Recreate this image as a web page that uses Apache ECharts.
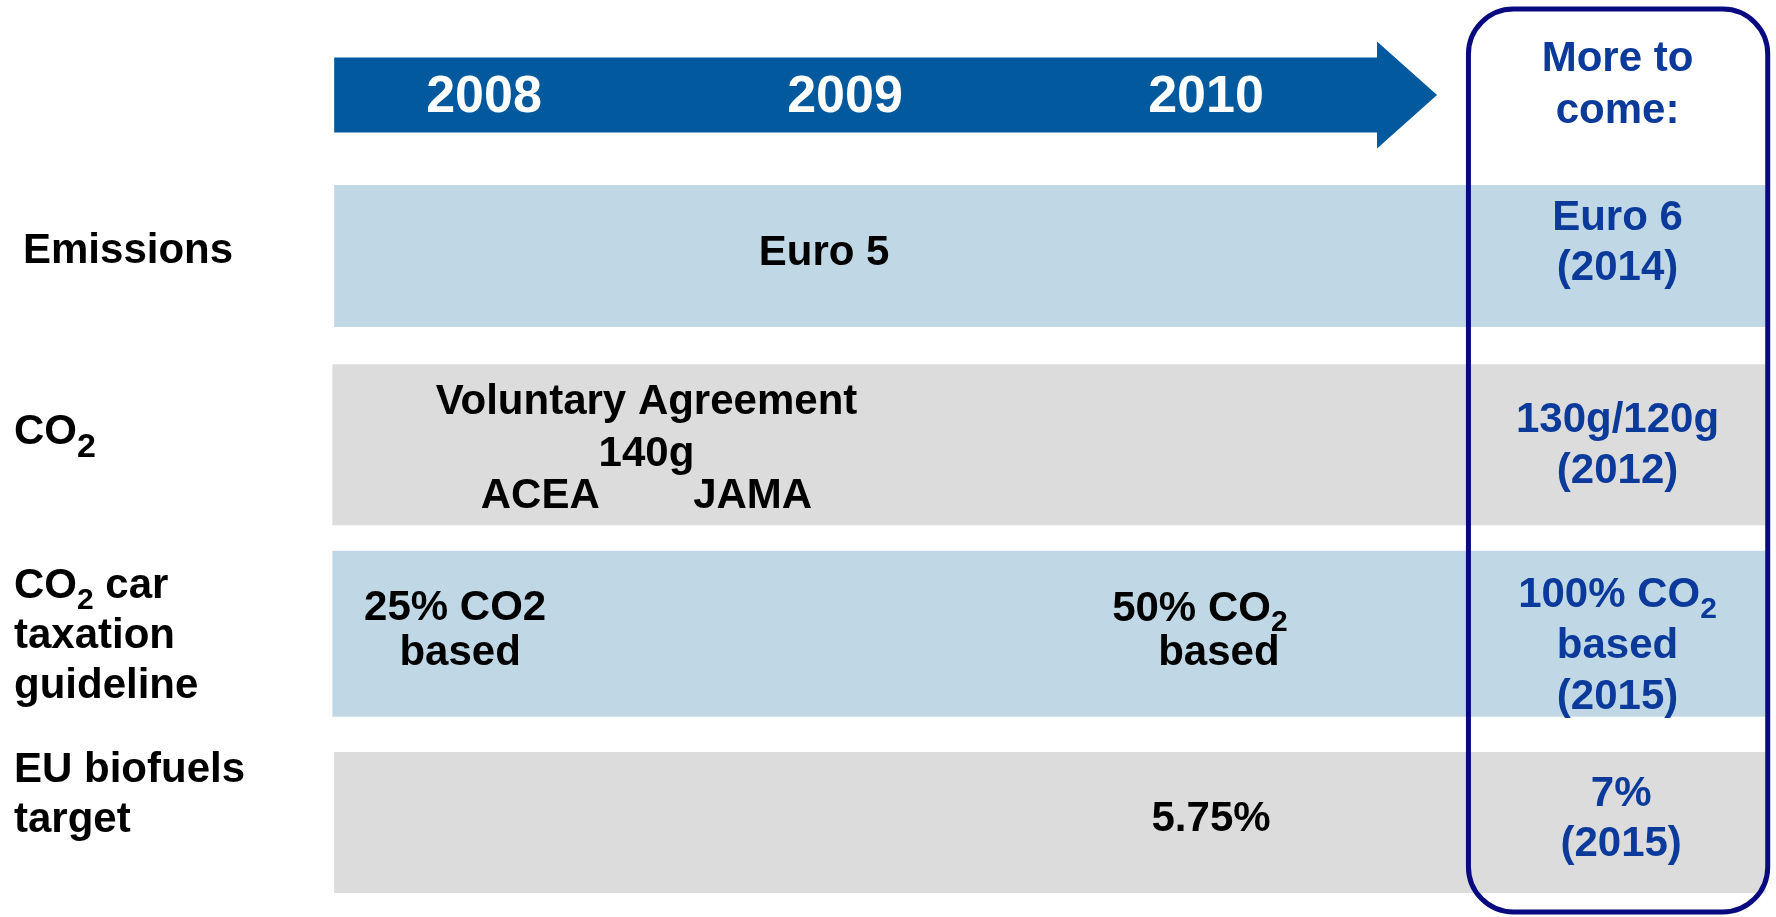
<!DOCTYPE html>
<html>
<head>
<meta charset="utf-8">
<script src="https://cdn.jsdelivr.net/npm/echarts@6/dist/echarts.min.js"></script>
<style>
html,body{margin:0;padding:0;background:#ffffff;}
#chart{width:1776px;height:917px;}
</style>
</head>
<body>
<div id="chart"></div>
<script>
// ---------------- data ----------------
const years = ['2008', '2009', '2010'];
const yearValues = [2008, 2009, 2010];
const timelineSpan = [2007.585, 2010.64];      // arrow: start year, tip year
const outlookSpan = [2010.727, 2011.556];      // "More to come" column
const outlookTitle = 'More to\ncome:';
const outlookTitleYear = 2011.14;

const rowNames = ['Emissions', 'CO₂', 'CO₂ car\ntaxation\nguideline', 'EU biofuels\ntarget'];
const bandStarts = [2007.585, 2007.58, 2007.58, 2007.585];
const bandEnds = [2011.55, 2011.55, 2011.55, 2011.55];

const noteTexts = [
  'Euro 5',
  'Voluntary Agreement\n140g\nACEA        JAMA',
  '25% CO2\nbased',
  '50% CO₂\nbased',
  '5.75%',
  'Euro 6\n(2014)',
  '130g/120g\n(2012)',
  '100% CO₂\nbased\n(2015)',
  '7%\n(2015)'
];
const noteYears = [2008.942, 2008.45, 2007.92, 2009.983, 2010.014, 2011.14, 2011.14, 2011.14, 2011.15];
const noteRows = [0, 1, 2, 2, 3, 0, 1, 2, 3];
const noteIsOutlook = [false, false, false, false, false, true, true, true, true];

// ---------------- layout / style ----------------
const FONT = '"Liberation Sans", Arial, Helvetica, sans-serif';
const BLACK = '#000000';
const BLUE = '#0b3a9b';
const ARROW = '#02599d';
const NAVY = '#0a0a80';
const TEXT_DY = 3;
const bandColors = ['#c0d8e5', '#dcdcdc', '#c0d8e5', '#dcdcdc'];
const bandHeights = [142, 161, 166, 141];
const noteDy = [-6, -3, -6, -5.5, -6, -16, -1.5, 10, -6.5];
const noteLineHeights = [[50], [56, 48, 36], [45, 45], [44, 44], [50], [50, 50], [51, 51], [51, 51, 51], [50, 50]];
const notePads = [null, null, [0, 10], [0, 38], null, null, null, null, null];
const rowLabelIndent = [9, 0, 0, 0];
const rowLabelSpacer = [16, 30, 0, 60];
const rowSubSize = [30, 34, 30, 30];
const GRID_LEFT = 303.5, X_MIN = 2007.5, X_MAX = 2011.57, PX_PER_YEAR = 361;
const GRID_WIDTH = (X_MAX - X_MIN) * PX_PER_YEAR;

function mainStyle(color, size, lh, extra) {
  return Object.assign({ fontFamily: FONT, fontWeight: 'bold', fontSize: size, color: color, lineHeight: lh }, extra || {});
}
function subStyle(color, lh, size) {
  size = size || 30;
  const pad = size >= 34 ? 30 : 28;
  return { fontFamily: FONT, fontWeight: 'bold', fontSize: size, color: color, lineHeight: lh, padding: [pad, 0, 0, 0] };
}
// converts text ('₂' marks a subscript 2) into rich-text markup, one style per line
function toRich(text, pads) {
  return text.split('\n').map(function (line, li) {
    const parts = line.split('₂');
    let out = '';
    parts.forEach(function (seg, i) {
      if (seg) {
        const name = (i === 0 && pads && pads[li]) ? 'mp' + li : 'm' + li;
        out += '{' + name + '|' + seg + '}';
      }
      if (i < parts.length - 1) out += '{s' + li + '|2}';
    });
    return out;
  }).join('\n');
}
function makeRich(color, lhs, pads) {
  const r = {};
  lhs.forEach(function (lh, li) {
    r['m' + li] = mainStyle(color, 42, lh);
    r['s' + li] = subStyle(color, lh);
    if (pads && pads[li]) r['mp' + li] = mainStyle(color, 42, lh, { padding: [0, 0, 0, pads[li]] });
  });
  return r;
}

// row labels (y axis)
const rowRich = { r: mainStyle(BLACK, 42, 50) };
rowSubSize.forEach(function (sz, i) { rowRich['rs' + i] = subStyle(BLACK, 50, sz); });
rowLabelIndent.forEach(function (p, i) { if (p) rowRich['ri' + i] = mainStyle(BLACK, 42, 50, { padding: [0, 0, 0, p] }); });
rowLabelSpacer.forEach(function (h, i) { if (h) rowRich['sp' + i] = { fontFamily: FONT, fontSize: 1, lineHeight: h }; });
function rowLabelFormatter(value, idx) {
  let out = value.split('\n').map(function (line) {
    const parts = line.split('₂');
    let o = '';
    parts.forEach(function (seg, i) {
      if (seg) o += '{' + ((i === 0 && rowLabelIndent[idx]) ? 'ri' + idx : 'r') + '|' + seg + '}';
      if (i < parts.length - 1) o += '{rs' + idx + '|2}';
    });
    return o;
  }).join('\n');
  if (rowLabelSpacer[idx]) out += '\n{sp' + idx + '| }';
  return out;
}

const chart = echarts.init(document.getElementById('chart'), null, { renderer: 'canvas' });

const hiddenX = function (gi) { return { gridIndex: gi, type: 'value', min: X_MIN, max: X_MAX, show: false }; };
const solid = { opacity: 1, color: 'transparent' };

const option = {
  animation: false,
  backgroundColor: '#ffffff',
  grid: [
    { left: GRID_LEFT, width: GRID_WIDTH, top: 9, height: 903 },
    { left: GRID_LEFT, width: GRID_WIDTH, top: 40, height: 110 },
    { left: GRID_LEFT, width: GRID_WIDTH, top: 161.5, height: 755.6 }
  ],
  xAxis: [hiddenX(0), hiddenX(1), hiddenX(2)],
  yAxis: [
    { gridIndex: 0, type: 'value', min: 0, max: 1, show: false },
    { gridIndex: 1, type: 'category', data: ['timeline'], show: false },
    {
      gridIndex: 2, type: 'category', data: rowNames, inverse: true,
      axisLine: { show: false }, axisTick: { show: false }, splitLine: { show: false },
      axisLabel: {
        interval: 0, align: 'left', margin: 289.5, padding: [TEXT_DY * 2, 0, 0, 0],
        fontFamily: FONT, fontWeight: 'bold', fontSize: 42, color: BLACK, lineHeight: 50,
        formatter: rowLabelFormatter, rich: rowRich
      }
    }
  ],
  series: [
    // timeline arrow
    {
      type: 'custom', xAxisIndex: 1, yAxisIndex: 1, z: 1, silent: true,
      data: [[timelineSpan[0], timelineSpan[1], 0]],
      renderItem: function (params, api) {
        const s = api.coord([api.value(0), api.value(2)]);
        const e = api.coord([api.value(1), api.value(2)]);
        const cy = s[1], bodyHalf = 37.5, headHalf = 53.5, headLen = 60;
        return {
          type: 'polygon',
          shape: { points: [
            [s[0], cy - bodyHalf], [e[0] - headLen, cy - bodyHalf], [e[0] - headLen, cy - headHalf],
            [e[0], cy], [e[0] - headLen, cy + headHalf], [e[0] - headLen, cy + bodyHalf], [s[0], cy + bodyHalf]
          ] },
          style: { fill: ARROW }
        };
      }
    },
    // year labels
    {
      type: 'scatter', xAxisIndex: 1, yAxisIndex: 1, z: 3, silent: true, symbolSize: 0, itemStyle: solid,
      data: yearValues.map(function (v) { return [v, 0]; }),
      label: {
        show: true, position: 'inside', offset: [0, TEXT_DY], color: '#ffffff', opacity: 1,
        fontFamily: FONT, fontWeight: 'bold', fontSize: 52,
        formatter: function (p) { return years[p.dataIndex]; }
      }
    },
    // outlook title
    {
      type: 'scatter', xAxisIndex: 1, yAxisIndex: 1, z: 3, silent: true, symbolSize: 0, itemStyle: solid,
      data: [[outlookTitleYear, 0]],
      label: {
        show: true, position: 'inside', offset: [0, -13 + TEXT_DY], opacity: 1,
        formatter: function () { return toRich(outlookTitle, null); },
        rich: makeRich(BLUE, [52, 52], null)
      }
    },
    // bands
    {
      type: 'custom', xAxisIndex: 2, yAxisIndex: 2, z: 1, silent: true,
      data: bandStarts.map(function (s, i) { return [s, bandEnds[i], i]; }),
      renderItem: function (params, api) {
        const row = api.value(2);
        const a = api.coord([api.value(0), row]);
        const b = api.coord([api.value(1), row]);
        const h = bandHeights[row];
        return {
          type: 'rect',
          shape: { x: a[0], y: a[1] - h / 2, width: b[0] - a[0], height: h },
          style: { fill: bandColors[row] }
        };
      }
    },
    // notes
    {
      type: 'scatter', xAxisIndex: 2, yAxisIndex: 2, z: 3, silent: true, symbolSize: 0, itemStyle: solid,
      data: noteYears.map(function (x, i) {
        const color = noteIsOutlook[i] ? BLUE : BLACK;
        const txt = toRich(noteTexts[i], notePads[i]);
        return {
          value: [x, noteRows[i]],
          label: {
            show: true, position: 'inside', offset: [0, noteDy[i] + TEXT_DY], opacity: 1,
            formatter: function () { return txt; },
            rich: makeRich(color, noteLineHeights[i], notePads[i])
          }
        };
      })
    },
    // outlook box
    {
      type: 'custom', xAxisIndex: 0, yAxisIndex: 0, z: 4, silent: true,
      data: [[outlookSpan[0], outlookSpan[1]]],
      renderItem: function (params, api) {
        const tl = api.coord([api.value(0), 1]);
        const br = api.coord([api.value(1), 0]);
        return {
          type: 'rect',
          shape: { x: tl[0], y: tl[1], width: br[0] - tl[0], height: br[1] - tl[1], r: 45 },
          style: { fill: 'none', stroke: NAVY, lineWidth: 5 }
        };
      }
    }
  ]
};
chart.setOption(option);
</script>
</body>
</html>
